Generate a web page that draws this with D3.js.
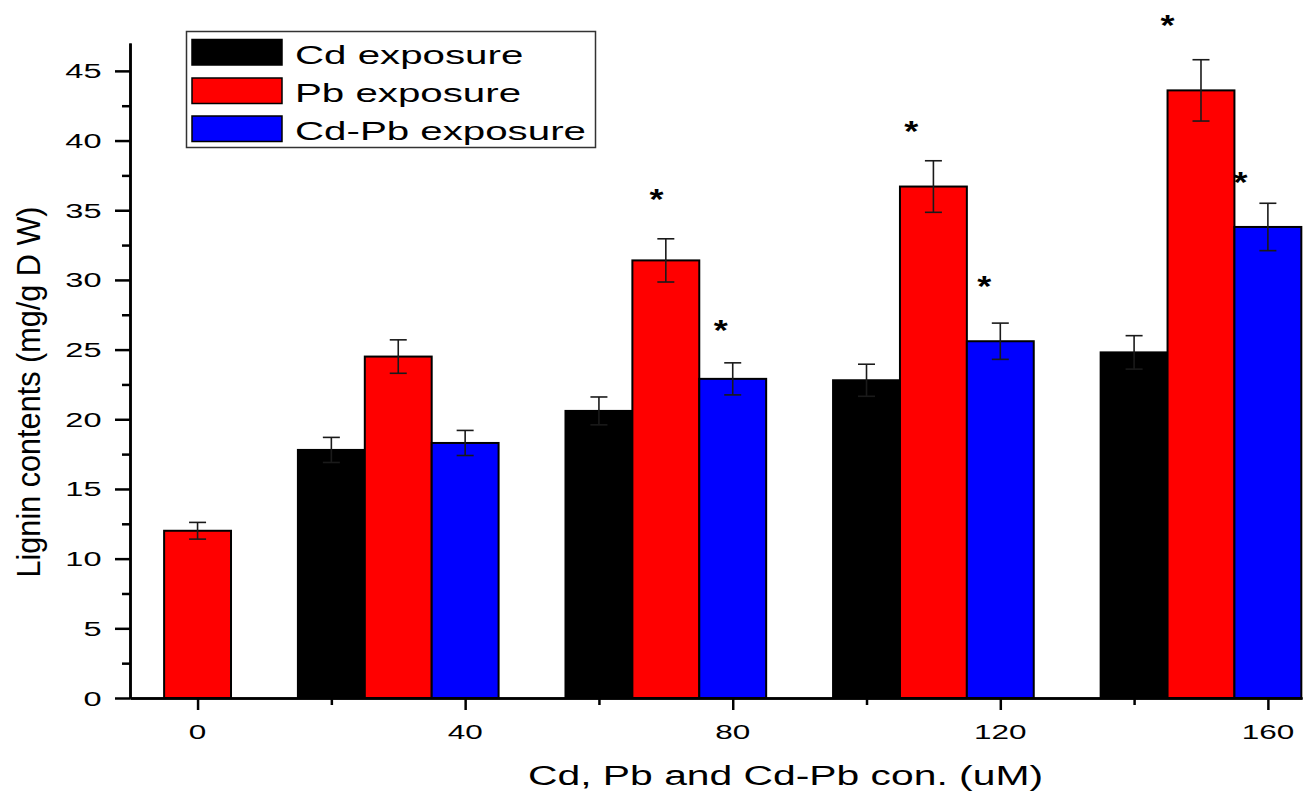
<!DOCTYPE html>
<html>
<head>
<meta charset="utf-8">
<script src="https://cdn.jsdelivr.net/npm/d3@7"></script>
<style>
  html, body { margin: 0; padding: 0; background: #fff; }
  svg { display: block; font-family: "Liberation Sans", Arial, sans-serif; }
</style>
</head>
<body>
<svg id="chart" width="1309" height="794"></svg>
<script>
// Lignin content under Cd, Pb and combined Cd-Pb exposure
const exposedConc = [40, 80, 120, 160];
const xTickValues = [0, 40, 80, 120, 160];
const xMinorTicks = [20, 60, 100, 140];
const yTickValues = [0, 5, 10, 15, 20, 25, 30, 35, 40, 45];
const yMinorTicks = [2.5, 7.5, 12.5, 17.5, 22.5, 27.5, 32.5, 37.5, 42.5];

const controlValue = 12.0;
const controlError = 0.6;

const cdValues = [17.8, 20.6, 22.8, 24.8];
const cdErrors = [0.9, 1.0, 1.15, 1.2];
const pbValues = [24.5, 31.4, 36.7, 43.6];
const pbErrors = [1.2, 1.55, 1.85, 2.2];
const cdpbValues = [18.3, 22.9, 25.6, 33.8];
const cdpbErrors = [0.9, 1.15, 1.3, 1.7];

const seriesNames = ["Cd exposure", "Pb exposure", "Cd-Pb exposure"];
const seriesColors = ["#000000", "#ff0000", "#0000ff"];
// bar centre relative to the concentration tick, in uM
const seriesOffsets = [-20, -10, 0];
const barWidthUnits = 10;

// significance markers (placed in data units: concentration, lignin)
const sigX = [68.6, 78.2, 106.7, 117.6, 145.0, 155.9];
const sigY = [36.3, 26.9, 41.2, 30.1, 48.8, 37.5];

const svg = d3.select("#chart");

const x = d3.scaleLinear().domain([-10.1, 165.1]).range([130, 1302]);
const y = d3.scaleLinear().domain([0, 47]).range([698, 43]);

// assemble bar records
const bars = [{ c: 0, v: controlValue, e: controlError, color: seriesColors[1] }];
[cdValues, pbValues, cdpbValues].forEach((vals, s) => {
  const errs = [cdErrors, pbErrors, cdpbErrors][s];
  vals.forEach((v, i) => {
    bars.push({ c: exposedConc[i] + seriesOffsets[s], v, e: errs[i], color: seriesColors[s] });
  });
});

const gBars = svg.append("g");
gBars.selectAll("rect").data(bars).join("rect")
  .attr("x", d => x(d.c - barWidthUnits / 2))
  .attr("width", d => x(d.c + barWidthUnits / 2) - x(d.c - barWidthUnits / 2))
  .attr("y", d => y(d.v))
  .attr("height", d => y(0) - y(d.v))
  .attr("fill", d => d.color)
  .attr("stroke", "#000")
  .attr("stroke-width", 2);

// error bars
const capHalf = 8.5;
const gErr = svg.append("g").attr("stroke", "#1a1a1a").attr("stroke-width", 1.6);
bars.forEach(d => {
  const cx = x(d.c);
  gErr.append("line").attr("x1", cx).attr("x2", cx).attr("y1", y(d.v + d.e)).attr("y2", y(d.v - d.e));
  gErr.append("line").attr("x1", cx - capHalf).attr("x2", cx + capHalf).attr("y1", y(d.v + d.e)).attr("y2", y(d.v + d.e));
  gErr.append("line").attr("x1", cx - capHalf).attr("x2", cx + capHalf).attr("y1", y(d.v - d.e)).attr("y2", y(d.v - d.e));
});

// axes
function styleAxis(g) {
  g.select(".domain").attr("stroke", "#000").attr("stroke-width", 2.5);
  g.selectAll(".tick line").attr("stroke", "#000").attr("stroke-width", 2.5);
  g.selectAll(".tick text").remove();
}
svg.append("g").attr("transform", `translate(0,${y(0)})`)
  .call(d3.axisBottom(x).tickValues(xTickValues).tickSize(12).tickSizeOuter(0))
  .call(styleAxis);
svg.append("g").attr("transform", `translate(0,${y(0)})`)
  .call(d3.axisBottom(x).tickValues(xMinorTicks).tickSize(7).tickSizeOuter(0))
  .call(styleAxis);
svg.append("g").attr("transform", `translate(${x.range()[0]},0)`)
  .call(d3.axisLeft(y).tickValues(yTickValues).tickSize(15).tickSizeOuter(0))
  .call(styleAxis);
svg.append("g").attr("transform", `translate(${x.range()[0]},0)`)
  .call(d3.axisLeft(y).tickValues(yMinorTicks).tickSize(8).tickSizeOuter(0))
  .call(styleAxis);

// text helper with horizontal stretch
function label(str, px, py, size, sx, anchor) {
  return svg.append("text")
    .attr("transform", `translate(${px},${py}) scale(${sx},1)`)
    .attr("text-anchor", anchor)
    .attr("font-size", size)
    .attr("fill", "#000")
    .text(str);
}

yTickValues.forEach(v => label(String(v), 101.5, y(v) + 7.5, 21, 1.55, "end"));
xTickValues.forEach(v => label(String(v), x(v), 738.5, 21, 1.5, "middle"));

// axis titles
svg.append("text")
  .attr("x", 528).attr("y", 785)
  .attr("font-size", 27)
  .attr("textLength", 515).attr("lengthAdjust", "spacingAndGlyphs")
  .text("Cd, Pb and Cd-Pb con. (uM)");

svg.append("text")
  .attr("transform", "translate(40,392) rotate(-90)")
  .attr("text-anchor", "middle")
  .attr("font-size", 33)
  .attr("textLength", 371).attr("lengthAdjust", "spacingAndGlyphs")
  .text("Lignin contents (mg/g D W)");

// significance stars
sigX.forEach((sx, i) => label("*", x(sx), y(sigY[i]) + 17, 30, 1.2, "middle").attr("font-weight", "bold"));

// legend
const legend = svg.append("g");
legend.append("rect")
  .attr("x", 186.5).attr("y", 31.5).attr("width", 409).attr("height", 116)
  .attr("fill", "#fff").attr("stroke", "#333").attr("stroke-width", 1.5);
const rowTops = [39.5, 78, 116];
seriesNames.forEach((name, i) => {
  legend.append("rect")
    .attr("x", 192).attr("y", rowTops[i]).attr("width", 90).attr("height", 25.5)
    .attr("fill", seriesColors[i]).attr("stroke", "#000").attr("stroke-width", 1.5);
  label(name, 295, rowTops[i] + 24, 26.5, 1.52, "start");
});
</script>
</body>
</html>
